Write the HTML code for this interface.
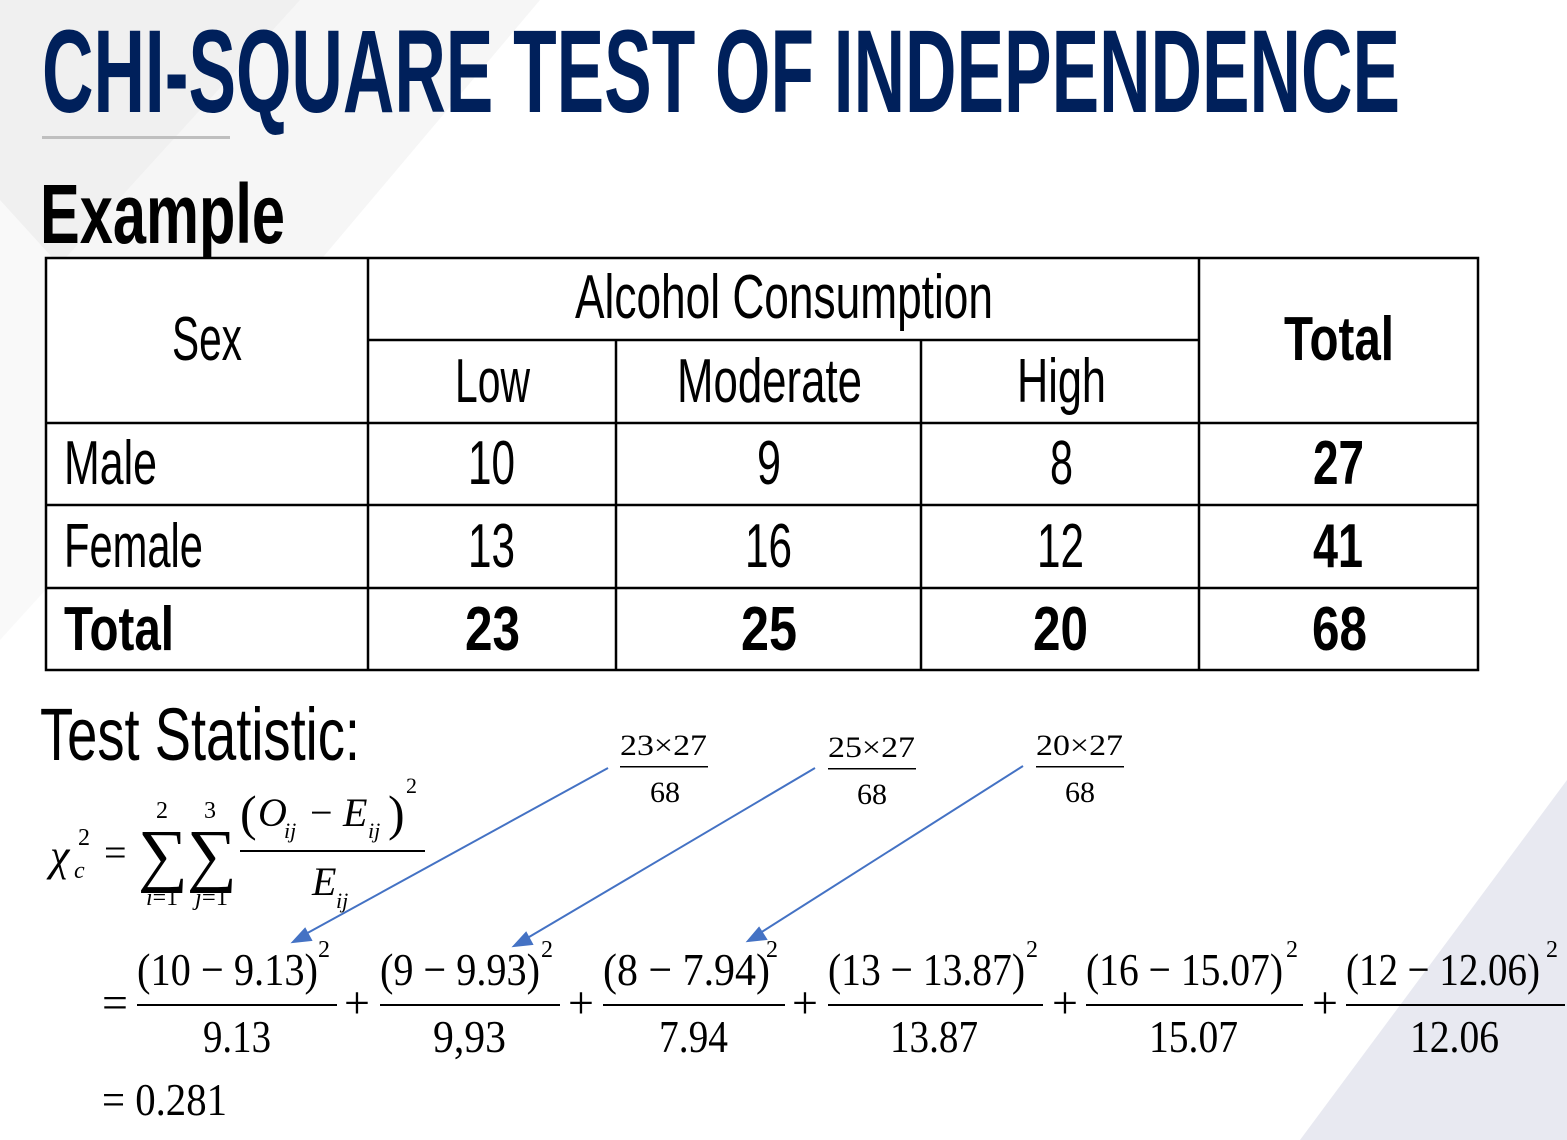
<!DOCTYPE html>
<html><head><meta charset="utf-8"><style>
html,body{margin:0;padding:0;background:#fff;}
svg{display:block;}
.c{font-family:"Liberation Sans",sans-serif;}
.s{font-family:"Liberation Serif",serif;fill:#000;}
</style></head><body>
<svg width="1567" height="1140" viewBox="0 0 1567 1140" xmlns="http://www.w3.org/2000/svg">
<rect width="1567" height="1140" fill="#fff"/>
<polygon points="0,0 540,0 0,640" fill="#f6f6f6"/>
<polygon points="0,0 300,0 0,330" fill="#f0f0f0"/>
<polygon points="0,200 200,420 0,640" fill="#f9f9f9"/>
<polygon points="1300,1140 1567,780 1567,1140" fill="#e8e9f1"/>

<text class="c" x="42" y="112" font-size="118" font-weight="bold" fill="#00205b" textLength="1358" lengthAdjust="spacingAndGlyphs">CHI-SQUARE TEST OF INDEPENDENCE</text>
<rect x="42" y="136" width="188" height="3" fill="#bfbfbf"/>
<text class="c" x="40" y="243" font-size="84" font-weight="bold" fill="#000" textLength="245" lengthAdjust="spacingAndGlyphs">Example</text>

<g stroke="#000" stroke-width="2.5" fill="none">
<rect x="46" y="258" width="1432" height="412" fill="#fff"/>
<line x1="368" y1="258" x2="368" y2="670"/>
<line x1="1199" y1="258" x2="1199" y2="670"/>
<line x1="616" y1="340" x2="616" y2="670"/>
<line x1="921" y1="340" x2="921" y2="670"/>
<line x1="368" y1="340" x2="1199" y2="340"/>
<line x1="46" y1="423" x2="1478" y2="423"/>
<line x1="46" y1="505" x2="1478" y2="505"/>
<line x1="46" y1="588" x2="1478" y2="588"/>
</g>
<g class="c" font-size="62" fill="#000">
<text x="575" y="318" textLength="418" lengthAdjust="spacingAndGlyphs">Alcohol Consumption</text>
<text x="172" y="360" textLength="70" lengthAdjust="spacingAndGlyphs">Sex</text>
<text x="455" y="402" textLength="75" lengthAdjust="spacingAndGlyphs">Low</text>
<text x="677" y="402" textLength="185" lengthAdjust="spacingAndGlyphs">Moderate</text>
<text x="1017" y="402" textLength="89" lengthAdjust="spacingAndGlyphs">High</text>
<text x="64" y="484" textLength="93" lengthAdjust="spacingAndGlyphs">Male</text>
<text x="468" y="484" textLength="47" lengthAdjust="spacingAndGlyphs">10</text>
<text x="757" y="484" textLength="24" lengthAdjust="spacingAndGlyphs">9</text>
<text x="1050" y="484" textLength="23" lengthAdjust="spacingAndGlyphs">8</text>
<text x="64" y="567" textLength="139" lengthAdjust="spacingAndGlyphs">Female</text>
<text x="468" y="567" textLength="47" lengthAdjust="spacingAndGlyphs">13</text>
<text x="745" y="567" textLength="47" lengthAdjust="spacingAndGlyphs">16</text>
<text x="1037" y="567" textLength="47" lengthAdjust="spacingAndGlyphs">12</text>
</g>
<g class="c" font-size="62" font-weight="bold" fill="#000">
<text x="1284" y="360" textLength="110" lengthAdjust="spacingAndGlyphs">Total</text>
<text x="1313" y="484" textLength="51" lengthAdjust="spacingAndGlyphs">27</text>
<text x="1313" y="567" textLength="50" lengthAdjust="spacingAndGlyphs">41</text>
<text x="64" y="650" textLength="110" lengthAdjust="spacingAndGlyphs">Total</text>
<text x="465" y="650" textLength="55" lengthAdjust="spacingAndGlyphs">23</text>
<text x="741" y="650" textLength="56" lengthAdjust="spacingAndGlyphs">25</text>
<text x="1033" y="650" textLength="55" lengthAdjust="spacingAndGlyphs">20</text>
<text x="1312" y="650" textLength="55" lengthAdjust="spacingAndGlyphs">68</text>
</g>

<text class="c" x="40" y="760" font-size="74" fill="#000" textLength="320" lengthAdjust="spacingAndGlyphs">Test Statistic:</text>

<g class="s">
<text x="50" y="870" font-size="44" font-style="italic">χ</text>
<text x="74" y="878" font-size="24" font-style="italic">c</text>
<text x="78" y="845" font-size="24">2</text>
<text x="104" y="866" font-size="40">=</text>
<text x="138" y="878" font-size="70">∑</text>
<text x="187" y="878" font-size="70">∑</text>
<text x="156" y="818" font-size="24">2</text>
<text x="204" y="818" font-size="24">3</text>
<text x="146" y="905" font-size="24" textLength="32" lengthAdjust="spacingAndGlyphs"><tspan font-style="italic">i</tspan>=1</text>
<text x="195" y="905" font-size="24" textLength="33" lengthAdjust="spacingAndGlyphs"><tspan font-style="italic">j</tspan>=1</text>
<text x="240" y="830" font-size="50">(</text>
<text x="258" y="826" font-size="40" font-style="italic">O</text>
<text x="284" y="838" font-size="22" font-style="italic">ij</text>
<text x="310" y="826" font-size="40">−</text>
<text x="343" y="826" font-size="40" font-style="italic">E</text>
<text x="368" y="838" font-size="22" font-style="italic">ij</text>
<text x="388" y="830" font-size="50">)</text>
<text x="406" y="793" font-size="22">2</text>
<rect x="240" y="850" width="185" height="2" fill="#000"/>
<text x="312" y="895" font-size="40" font-style="italic">E</text>
<text x="336" y="908" font-size="22" font-style="italic">ij</text>
</g>

<g class="s" font-size="30">
<text x="620" y="755" textLength="87" lengthAdjust="spacingAndGlyphs">23×27</text>
<rect x="620" y="766" width="88" height="1.5" fill="#000"/>
<text x="650" y="802">68</text>
<text x="828" y="757" textLength="87" lengthAdjust="spacingAndGlyphs">25×27</text>
<rect x="828" y="768" width="88" height="1.5" fill="#000"/>
<text x="857" y="804">68</text>
<text x="1036" y="755" textLength="87" lengthAdjust="spacingAndGlyphs">20×27</text>
<rect x="1036" y="766" width="88" height="1.5" fill="#000"/>
<text x="1065" y="802">68</text>
</g>
<g stroke="#4472c4" stroke-width="2" fill="#4472c4">
<line x1="608" y1="768" x2="302" y2="936"/>
<polygon points="293,942 305,929 311,940"/>
<line x1="815" y1="768" x2="524" y2="940"/>
<polygon points="514,946 526,933 532,944"/>
<line x1="1023" y1="766" x2="757" y2="935"/>
<polygon points="748,941 759,928 766,939"/>
</g>

<g class="s" font-size="46">
<text x="102" y="1018">=</text>
<text x="137" y="985" textLength="181" lengthAdjust="spacingAndGlyphs">(10 − 9.13)</text>
<text x="318" y="957" font-size="24">2</text>
<rect x="137" y="1004" width="200" height="2" fill="#000"/>
<text x="203" y="1052" textLength="68" lengthAdjust="spacingAndGlyphs">9.13</text>
<text x="344" y="1018">+</text>
<text x="380" y="985" textLength="160" lengthAdjust="spacingAndGlyphs">(9 − 9.93)</text>
<text x="541" y="957" font-size="24">2</text>
<rect x="380" y="1004" width="180" height="2" fill="#000"/>
<text x="433" y="1052" textLength="73" lengthAdjust="spacingAndGlyphs">9,93</text>
<text x="568" y="1018">+</text>
<text x="603" y="985" textLength="167" lengthAdjust="spacingAndGlyphs">(8 − 7.94)</text>
<text x="766" y="957" font-size="24">2</text>
<rect x="603" y="1004" width="182" height="2" fill="#000"/>
<text x="659" y="1052" textLength="69" lengthAdjust="spacingAndGlyphs">7.94</text>
<text x="792" y="1018">+</text>
<text x="828" y="985" textLength="197" lengthAdjust="spacingAndGlyphs">(13 − 13.87)</text>
<text x="1026" y="957" font-size="24">2</text>
<rect x="828" y="1004" width="215" height="2" fill="#000"/>
<text x="890" y="1052" textLength="88" lengthAdjust="spacingAndGlyphs">13.87</text>
<text x="1052" y="1018">+</text>
<text x="1086" y="985" textLength="197" lengthAdjust="spacingAndGlyphs">(16 − 15.07)</text>
<text x="1286" y="957" font-size="24">2</text>
<rect x="1086" y="1004" width="217" height="2" fill="#000"/>
<text x="1149" y="1052" textLength="89" lengthAdjust="spacingAndGlyphs">15.07</text>
<text x="1312" y="1018">+</text>
<text x="1346" y="985" textLength="194" lengthAdjust="spacingAndGlyphs">(12 − 12.06)</text>
<text x="1546" y="957" font-size="24">2</text>
<rect x="1346" y="1004" width="219" height="2" fill="#000"/>
<text x="1410" y="1052" textLength="89" lengthAdjust="spacingAndGlyphs">12.06</text>
<text x="102" y="1115" textLength="125" lengthAdjust="spacingAndGlyphs">= 0.281</text>
</g>
</svg>
</body></html>
